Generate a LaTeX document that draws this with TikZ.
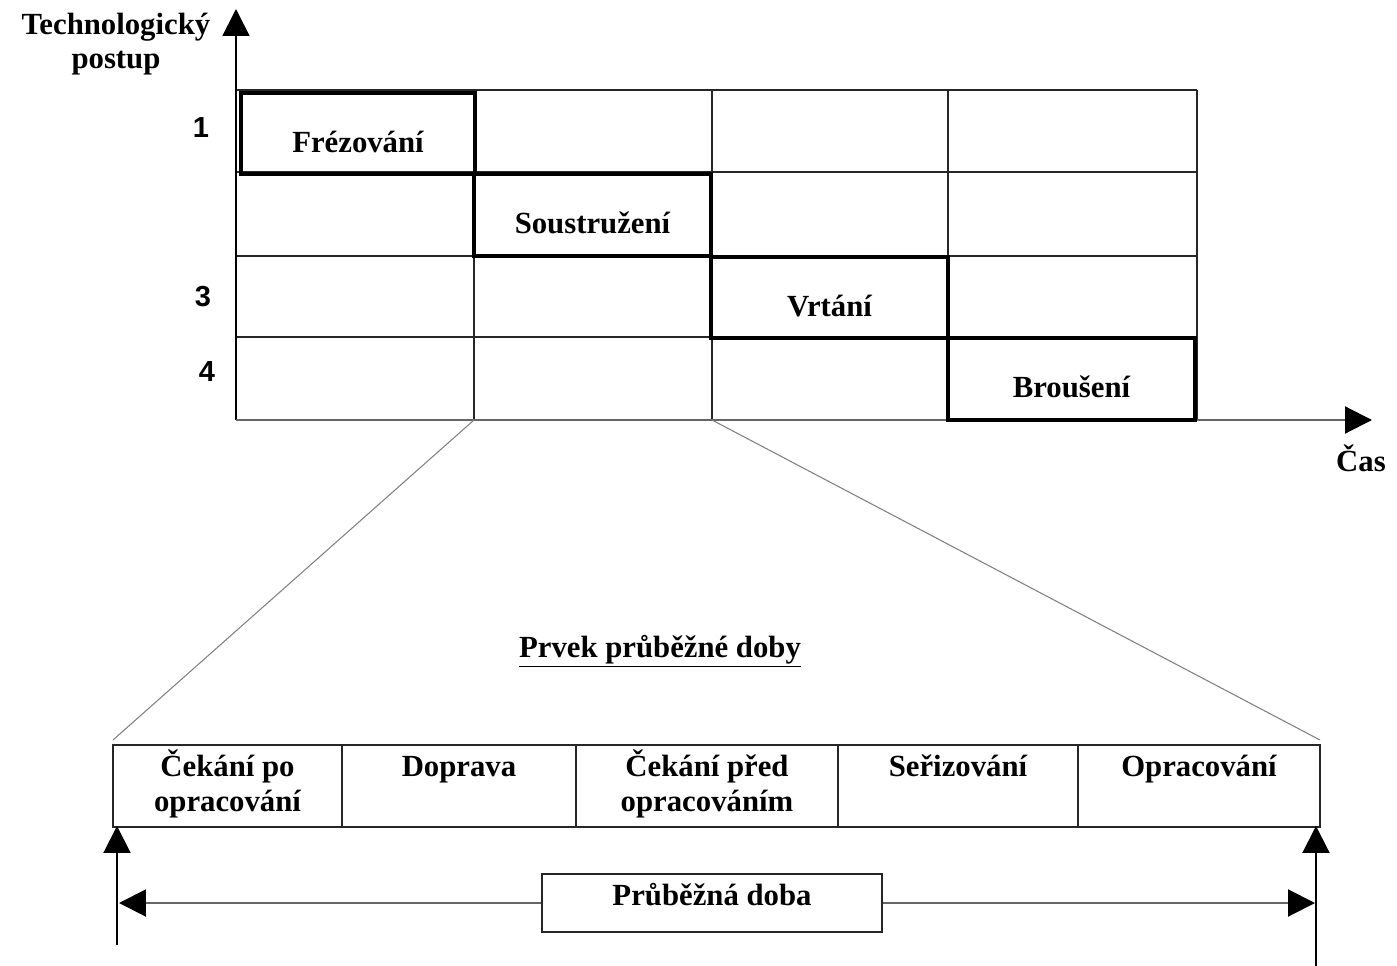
\documentclass[tikz,border=0pt]{standalone}
\usepackage{fontspec}
\setmainfont{Liberation Serif}
\newfontfamily\numfont{Liberation Sans}
\usetikzlibrary{arrows.meta}

\begin{document}
\begin{tikzpicture}[
  x=0.02cm, y=-0.02cm,
  font=\fontsize{17.5}{19.5}\selectfont\bfseries,
  grid/.style={draw=black!85, line width=0.9pt},
  stage/.style={draw, line width=2.4pt, inner sep=0pt, minimum height=1.62cm,
                text height=34pt, text depth=12.5pt},
  cell/.style={draw=black!85, line width=0.9pt, inner sep=0pt, minimum height=1.64cm,
               align=center, text height=18.2pt, text depth=28.5pt},
  cell2/.style={cell, text height=37.7pt, text depth=9pt},
  rownum/.style={font=\fontsize{16.5}{18}\selectfont\numfont\bfseries},
  yaxis/.style={draw=black, line width=1pt, -{Triangle[length=0.54cm, width=0.54cm]}},
  xaxis/.style={draw=black!60, line width=1.2pt, -{Triangle[length=0.54cm, width=0.54cm, color=black]}},
  zoomline/.style={draw=black!50, line width=0.6pt},
  span/.style={line width=1.2pt, -{Triangle[length=0.54cm, width=0.54cm, color=black]}},
]
\useasboundingbox (0,0) rectangle (1397,966);

\foreach \x in {474,712,948,1197} \draw[grid] (\x,90) -- (\x,420);
\foreach \y in {90,172,256,337} \draw[grid] (236,\y) -- (1197,\y);

\coordinate (o) at (236,420);
\coordinate (ytip) at (236,9);
\coordinate (xtip) at (1372,420);
\draw[yaxis] (o) -- (ytip);
\draw[xaxis] (o) -- (xtip);

\node (ylab) at (116,44) [align=center] {Technologický\\postup};
\node (xlab) at (1361,458) {Čas};
\node[rownum] (r1) at (201,128) {1};
\node[rownum] (r3) at (203,297) {3};
\node[rownum] (r4) at (207,372) {4};

\node[stage, minimum width=4.68cm] (frez) at (358,133.5) {Frézování};
\node[stage, minimum width=4.74cm] (sous) at (592.5,215) {Soustružení};
\node[stage, minimum width=4.74cm] (vrt) at (829.5,297.5) {Vrtání};
\node[stage, minimum width=4.94cm] (brou) at (1071.5,379) {Broušení};

\node (title) at (660,651) {\underline{Prvek průběžné doby}};

\node[cell2, minimum width=4.58cm] (c1) at (227.5,786) {Čekání po\\opracování};
\node[cell, minimum width=4.68cm] (c2) at (459,786) {Doprava};
\node[cell2, minimum width=5.24cm] (c3) at (707,786) {Čekání před\\opracováním};
\node[cell, minimum width=4.80cm] (c4) at (958,786) {Seřizování};
\node[cell, minimum width=4.84cm] (c5) at (1199,786) {Opracování};

\coordinate (g2) at (474,420);
\coordinate (g3) at (712,420);
\coordinate (z1) at (113,740);
\coordinate (z2) at (1320,740);
\draw[zoomline] (g2) -- (z1);
\draw[zoomline] (g3) -- (z2);

\node[draw=black!85, line width=0.9pt, inner sep=0pt, minimum width=6.8cm, minimum height=1.16cm,
      text height=18pt, text depth=15pt] (pd) at (712,903) {Průběžná doba};

\coordinate (s1) at (117,945);
\coordinate (e1) at (117,826);
\coordinate (s2) at (1316,966);
\coordinate (e2) at (1316,826);
\draw[span, black] (s1) -- (e1);
\draw[span, black] (s2) -- (e2);

\coordinate (h1) at (119,903);
\coordinate (h2) at (1315,903);
\draw[span, black!60] (pd.west) -- (h1);
\draw[span, black!60] (pd.east) -- (h2);
\end{tikzpicture}
\end{document}
